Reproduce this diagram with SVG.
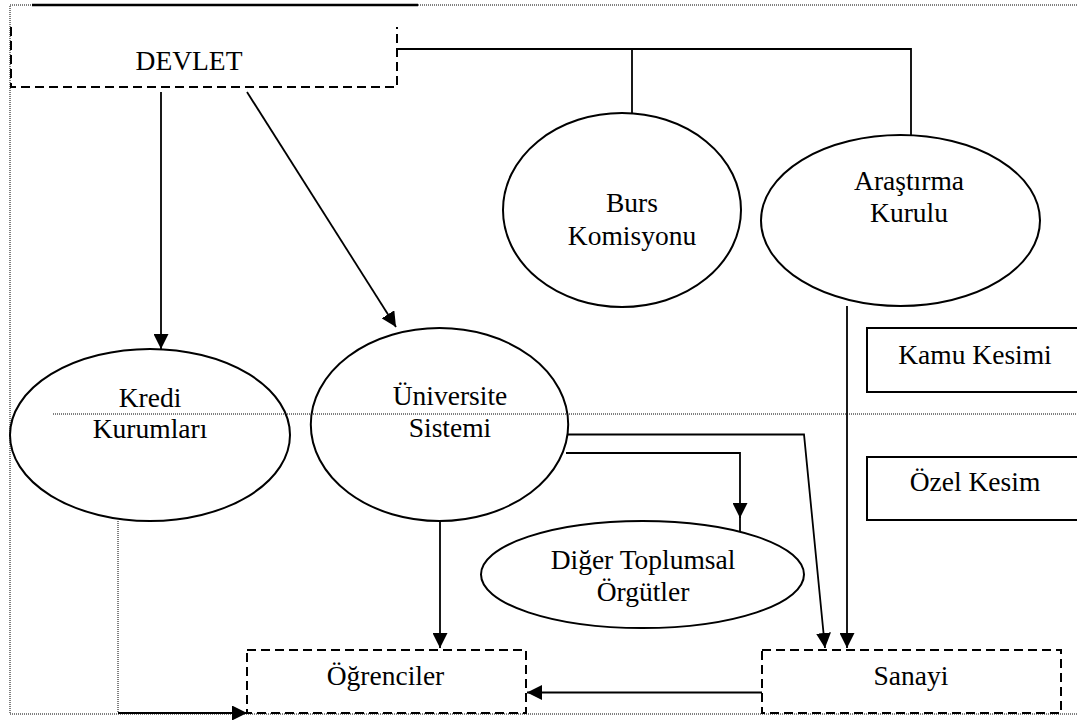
<svg xmlns="http://www.w3.org/2000/svg" width="1077" height="720" viewBox="0 0 1077 720">
<style>
.lbl{font-family:"Liberation Serif","Times New Roman",serif;font-size:27.5px;fill:#000;text-anchor:middle}
.ell{fill:none;stroke:#000;stroke-width:2}
.dash{fill:none;stroke:#000;stroke-width:2;stroke-dasharray:9 5}
.solid{fill:none;stroke:#000;stroke-width:1.8}
.dot{fill:none;stroke:#000;stroke-width:1;stroke-dasharray:1 1}
.rect{fill:none;stroke:#000;stroke-width:2}
</style>
<defs>
<marker id="arr" markerUnits="userSpaceOnUse" markerWidth="15" markerHeight="15" refX="15" refY="7.5" orient="auto">
<path d="M0,0 L15,7.5 L0,15 z" fill="#000"/>
</marker>
</defs>
<rect width="1077" height="720" fill="#fff"/>
<g id="frame">
<path class="dot" d="M1077,5 H10 V714 H1077"/>
<line x1="32" y1="5" x2="418" y2="5" stroke="#000" stroke-width="2.6"/>
<line class="dot" x1="53" y1="414" x2="1077" y2="414"/>
</g>
<g id="devlet">
<path class="dash" d="M11,27 V87 H397 V27"/>
<text class="lbl" font-family="Liberation Serif, serif" x="189" y="69.5">DEVLET</text>
</g>
<g id="burs">
<ellipse class="ell" cx="622" cy="210" rx="119" ry="97"/>
<text class="lbl" font-family="Liberation Serif, serif" x="632" y="211.5">Burs</text>
<text class="lbl" font-family="Liberation Serif, serif" x="632" y="245">Komisyonu</text>
</g>
<g id="arastirma">
<ellipse class="ell" cx="900.5" cy="220.5" rx="139.5" ry="85.5"/>
<text class="lbl" font-family="Liberation Serif, serif" x="909" y="190">Araştırma</text>
<text class="lbl" font-family="Liberation Serif, serif" x="909" y="221.5">Kurulu</text>
</g>
<g id="kredi">
<ellipse class="ell" cx="150" cy="435" rx="140" ry="86"/>
<text class="lbl" font-family="Liberation Serif, serif" x="150" y="407">Kredi</text>
<text class="lbl" font-family="Liberation Serif, serif" x="150" y="438">Kurumları</text>
</g>
<g id="universite">
<ellipse class="ell" cx="439.5" cy="424.5" rx="128.7" ry="96.5"/>
<text class="lbl" font-family="Liberation Serif, serif" x="450" y="405">Üniversite</text>
<text class="lbl" font-family="Liberation Serif, serif" x="450" y="437">Sistemi</text>
</g>
<g id="diger">
<ellipse class="ell" cx="642.5" cy="574.5" rx="161.5" ry="53.5"/>
<text class="lbl" font-family="Liberation Serif, serif" x="643" y="569">Diğer Toplumsal</text>
<text class="lbl" font-family="Liberation Serif, serif" x="643" y="601">Örgütler</text>
</g>
<g id="kamu">
<path class="rect" d="M1078,328 H867 V392 H1078"/>
<text class="lbl" font-family="Liberation Serif, serif" x="975" y="364">Kamu Kesimi</text>
</g>
<g id="ozel">
<path class="rect" d="M1078,457 H867 V520 H1078"/>
<text class="lbl" font-family="Liberation Serif, serif" x="975" y="490.5">Özel Kesim</text>
</g>
<g id="ogrenciler">
<rect class="dash" x="247" y="650" width="279" height="63"/>
<text class="lbl" font-family="Liberation Serif, serif" x="385.5" y="685">Öğrenciler</text>
</g>
<g id="sanayi">
<rect class="dash" x="762" y="650" width="299" height="63"/>
<text class="lbl" font-family="Liberation Serif, serif" x="911" y="685">Sanayi</text>
</g>
<g id="connectors">
<path class="solid" d="M397,49 H911 V135"/>
<line class="solid" x1="632" y1="49" x2="632" y2="113"/>
<line class="solid" x1="161" y1="92" x2="161" y2="349" marker-end="url(#arr)"/>
<line class="solid" x1="247" y1="92" x2="396" y2="327" marker-end="url(#arr)"/>
<path class="solid" d="M567,434.5 H804 L825,648" marker-end="url(#arr)"/>
<path class="solid" d="M566,453 H740 V518" marker-end="url(#arr)"/>
<line class="solid" x1="740" y1="516" x2="740" y2="531"/>
<line class="solid" x1="847" y1="306" x2="847" y2="648" marker-end="url(#arr)"/>
<line class="solid" x1="440" y1="521" x2="440" y2="648" marker-end="url(#arr)"/>
<line class="solid" x1="762" y1="692.5" x2="527" y2="692.5" marker-end="url(#arr)"/>
<line class="dot" x1="118" y1="521" x2="118" y2="713"/>
<line class="solid" x1="118" y1="713" x2="247" y2="713" marker-end="url(#arr)"/>
</g>
</svg>
